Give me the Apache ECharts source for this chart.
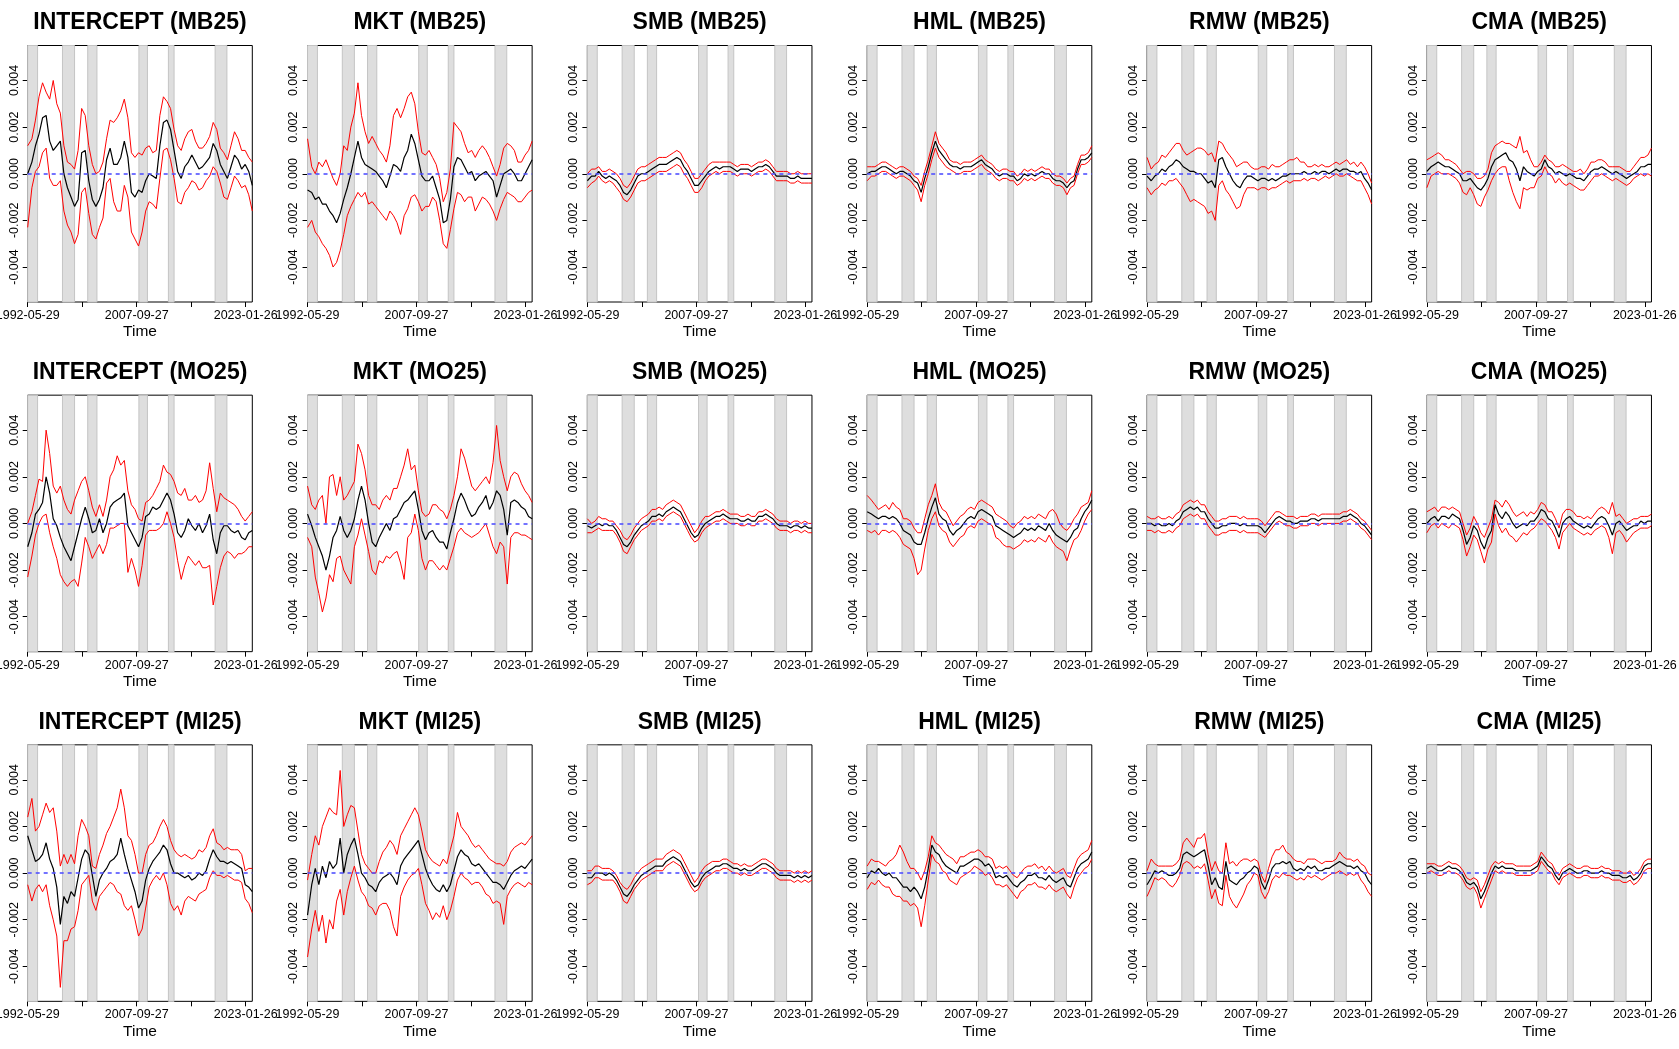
<!DOCTYPE html>
<html><head><meta charset="utf-8">
<script src="https://cdn.jsdelivr.net/npm/echarts@6/dist/echarts.min.js"></script>
<style>html,body{margin:0;padding:0;background:#fff}#c{width:1679px;height:1049px}</style>
</head><body><div id="c"></div>
<script>
// time grid (decimal years)
const T = [1992.41,1993.0,1993.5,1994.0,1994.5,1995.0,1995.5,1996.0,1996.5,1997.0,1997.5,1998.0,1998.5,1999.0,1999.5,2000.0,2000.5,2001.0,2001.5,2002.0,2002.5,2003.0,2003.5,2004.0,2004.5,2005.0,2005.5,2006.0,2006.5,2007.0,2007.5,2008.0,2008.5,2009.0,2009.5,2010.0,2010.5,2011.0,2011.5,2012.0,2012.5,2013.0,2013.5,2014.0,2014.5,2015.0,2015.5,2016.0,2016.5,2017.0,2017.5,2018.0,2018.5,2019.0,2019.5,2020.0,2020.5,2021.0,2021.5,2022.0,2022.5,2023.0,2023.5,2024.0];
const ROWS = ['MB25','MO25','MI25'];
const COLS = ['INTERCEPT','MKT','SMB','HML','RMW','CMA'];
const SHADE = [[1992.41,1993.8],[1997.3,1999.0],[2000.85,2002.15],[2008.05,2009.25],[2012.2,2013.0],[2018.77,2020.43]];
const X_TICKS = [1992.41,2000.07,2007.74,2015.41,2023.07];
const X_LABEL_POS = [1992.41,2007.74,2023.07];
const X_LABELS = ['1992-05-29','2007-09-27','2023-01-26'];
const Y_TICKS = [-0.004,-0.002,0,0.002,0.004];
const UNIT = 0.001; // all series below are written in units of 0.001

// ---------- MB25 ----------
const INT_MB25_EST = [0.0,0.5,1.2,1.7,2.4,2.5,1.4,1.0,1.2,1.4, 0.0,-0.6,-1.0,-1.4,-1.1,0.9,1.0,-0.3,-1.1,-1.4, -1.1,-0.6,0.6,1.1,0.4,0.4,0.7,1.4,0.7,-0.8, -1.0,-0.7,-0.8,-0.3,0.0,-0.1,-0.2,1.2,2.2,2.3, 1.9,1.0,0.1,-0.2,0.3,0.5,0.8,0.5,0.2,0.3, 0.5,0.7,1.3,1.0,0.4,0.1,-0.2,0.3,0.8,0.6, 0.2,0.4,0.1,-0.5];
const INT_MB25_UP = [1.2,1.5,2.3,3.3,3.9,3.5,3.2,4.0,3.0,2.6, 1.2,0.5,0.4,0.2,1.0,2.8,2.5,1.2,0.4,0.0, 0.1,0.5,1.5,2.3,2.2,2.4,2.7,3.2,2.4,0.9, 0.7,0.9,0.8,1.1,1.2,0.9,1.0,2.5,3.3,3.1, 2.8,1.9,1.2,1.0,1.5,1.8,1.9,1.4,1.1,1.1, 1.3,1.6,2.2,1.9,1.1,0.9,0.6,1.2,1.8,1.5, 1.0,1.0,0.7,0.5];
const INT_MB25_LO = [-2.3,-0.6,0.1,0.3,0.9,1.1,-0.2,-0.5,-0.5,-0.3, -1.6,-2.2,-2.5,-3.0,-2.6,-0.8,-0.6,-1.7,-2.6,-2.8, -2.3,-1.9,-0.4,-0.2,-1.2,-1.6,-1.6,-0.5,-1.0,-2.5, -2.8,-3.1,-2.5,-1.6,-1.2,-1.3,-1.5,-0.2,1.0,1.1, 0.6,-0.2,-1.2,-1.3,-0.8,-0.6,-0.3,-0.4,-0.7,-0.6, -0.3,-0.1,0.3,0.1,-0.4,-1.0,-1.1,-0.6,-0.1,-0.3, -0.6,-0.5,-0.9,-1.6];

const MKT_MB25_EST = [-0.7,-0.8,-1.1,-1.0,-1.3,-1.3,-1.6,-1.8,-2.1,-1.7, -1.1,-0.6,0.0,0.7,1.4,0.7,0.4,0.3,0.2,0.1, -0.1,-0.3,-0.6,-0.1,0.4,0.3,0.1,0.7,1.0,1.7, 1.3,0.6,-0.1,-0.3,-0.3,-0.1,-0.6,-1.1,-2.1,-2.0, -1.1,0.3,0.7,0.6,0.3,0.0,0.1,-0.3,-0.1,0.0, 0.1,-0.1,-0.3,-1.0,-0.5,0.0,0.1,0.2,0.0,-0.3, -0.3,0.0,0.3,0.6];
const MKT_MB25_UP = [1.5,0.3,0.0,0.5,0.3,0.6,0.2,-0.2,-0.5,0.0, 1.2,1.0,2.0,2.6,3.9,2.5,1.8,1.3,1.6,1.3, 1.0,0.8,0.5,1.2,2.5,2.8,2.4,2.8,3.3,3.5, 3.0,1.8,0.9,0.8,1.0,0.7,0.4,-0.2,-1.2,-0.8, 0.2,2.2,2.0,1.8,1.3,0.9,1.0,0.7,1.0,1.2, 1.0,0.7,0.3,-0.1,0.4,1.1,1.3,1.2,1.0,0.5, 0.5,0.8,1.0,1.4];
const MKT_MB25_LO = [-2.3,-2.0,-2.5,-2.7,-3.0,-3.2,-3.5,-4.0,-3.8,-3.3, -2.6,-1.8,-1.4,-1.1,-0.8,-1.0,-0.8,-1.3,-1.2,-1.4, -1.6,-1.8,-2.0,-1.6,-1.8,-2.1,-2.6,-1.8,-1.5,-1.0, -0.9,-1.2,-1.6,-1.4,-1.4,-1.0,-1.2,-2.0,-3.0,-3.2, -2.4,-1.5,-0.8,-0.9,-1.2,-1.0,-1.0,-1.6,-1.3,-1.0, -1.1,-1.3,-1.6,-2.0,-1.5,-1.1,-0.8,-0.9,-1.0,-1.2, -1.2,-1.0,-0.8,-0.7];

const SMB_MB25_EST = [-0.3,-0.1,-0.1,0.1,-0.1,-0.2,-0.1,-0.2,-0.3,-0.5, -0.8,-0.9,-0.7,-0.4,-0.1,0.0,0.0,0.1,0.2,0.3, 0.4,0.4,0.4,0.5,0.6,0.7,0.6,0.3,0.1,-0.2, -0.5,-0.5,-0.3,-0.1,0.1,0.2,0.3,0.2,0.3,0.3, 0.3,0.2,0.1,0.2,0.2,0.2,0.1,0.2,0.3,0.3, 0.4,0.3,0.1,-0.1,-0.1,-0.1,-0.1,-0.2,-0.2,-0.1, -0.2,-0.2,-0.2,-0.2];
const SMB_MB25_UP = [0.0,0.2,0.2,0.3,0.1,0.1,0.2,0.1,0.0,-0.2, -0.5,-0.6,-0.4,-0.1,0.2,0.3,0.3,0.4,0.5,0.6, 0.7,0.7,0.7,0.8,0.9,1.0,0.9,0.6,0.4,0.1, -0.2,-0.2,0.0,0.2,0.4,0.5,0.5,0.5,0.5,0.5, 0.5,0.4,0.3,0.4,0.4,0.4,0.3,0.4,0.5,0.5, 0.6,0.5,0.3,0.1,0.1,0.1,0.1,0.0,0.0,0.1, 0.0,0.0,0.0,0.0];
const SMB_MB25_LO = [-0.6,-0.4,-0.3,-0.1,-0.3,-0.4,-0.3,-0.4,-0.6,-0.8, -1.1,-1.2,-1.0,-0.7,-0.4,-0.3,-0.3,-0.2,-0.1,0.0, 0.1,0.1,0.1,0.2,0.3,0.4,0.3,0.0,-0.2,-0.5, -0.8,-0.8,-0.6,-0.3,-0.1,0.0,0.1,0.0,0.1,0.1, 0.1,0.0,-0.1,0.0,0.0,0.0,-0.1,0.0,0.1,0.1, 0.2,0.1,-0.1,-0.3,-0.3,-0.3,-0.3,-0.4,-0.4,-0.3, -0.4,-0.4,-0.4,-0.4];

const HML_MB25_EST = [0.0,0.1,0.1,0.2,0.3,0.3,0.2,0.1,0.0,0.1, 0.1,0.0,-0.1,-0.3,-0.4,-0.8,-0.2,0.3,0.9,1.4, 1.0,0.8,0.6,0.4,0.3,0.3,0.2,0.3,0.3,0.3, 0.4,0.5,0.6,0.4,0.3,0.2,0.0,-0.1,0.0,0.0, -0.1,-0.1,-0.3,-0.2,0.0,-0.1,0.0,-0.1,0.0,0.1, 0.0,0.0,-0.2,-0.3,-0.3,-0.4,-0.6,-0.4,-0.3,0.2, 0.6,0.6,0.7,0.9];
const HML_MB25_UP = [0.3,0.3,0.3,0.4,0.5,0.5,0.4,0.3,0.2,0.3, 0.3,0.2,0.1,-0.1,-0.2,-0.5,0.1,0.6,1.2,1.8, 1.3,1.1,0.9,0.6,0.5,0.5,0.4,0.5,0.5,0.5, 0.6,0.7,0.8,0.6,0.5,0.4,0.2,0.1,0.2,0.2, 0.1,0.1,-0.1,0.0,0.2,0.1,0.2,0.1,0.2,0.3, 0.2,0.2,0.0,-0.1,-0.1,-0.2,-0.4,-0.2,-0.1,0.4, 0.8,0.8,0.9,1.2];
const HML_MB25_LO = [-0.3,-0.1,-0.1,0.0,0.1,0.1,0.0,-0.1,-0.2,-0.1, -0.1,-0.2,-0.3,-0.5,-0.7,-1.2,-0.5,0.0,0.6,1.1, 0.7,0.5,0.3,0.2,0.1,0.0,0.0,0.1,0.1,0.1, 0.2,0.3,0.4,0.2,0.1,0.0,-0.2,-0.3,-0.2,-0.2, -0.3,-0.3,-0.5,-0.4,-0.2,-0.3,-0.2,-0.3,-0.2,-0.1, -0.2,-0.2,-0.4,-0.5,-0.5,-0.6,-0.9,-0.6,-0.5,0.0, 0.4,0.4,0.5,0.7];

const RMW_MB25_EST = [-0.1,-0.3,-0.1,0.0,0.2,0.1,0.3,0.4,0.6,0.5, 0.3,0.2,0.1,0.1,0.0,0.0,-0.2,-0.4,-0.3,-0.6, 0.6,0.7,0.3,0.0,-0.3,-0.5,-0.6,-0.3,-0.1,-0.1, -0.2,-0.3,-0.2,-0.2,-0.3,-0.2,-0.3,-0.2,-0.1,-0.1, 0.0,0.0,0.0,0.0,0.1,0.0,0.0,0.1,0.0,0.1, 0.1,0.0,0.1,0.2,0.1,0.2,0.2,0.1,0.1,0.0, 0.1,-0.2,-0.4,-0.7];
const RMW_MB25_UP = [0.7,0.2,0.4,0.5,0.8,0.7,0.9,1.1,1.3,1.3, 1.0,0.8,0.9,1.0,1.1,1.1,1.0,0.8,0.9,0.5, 1.4,1.3,1.0,0.8,0.6,0.3,0.4,0.5,0.5,0.3, 0.2,0.2,0.3,0.3,0.2,0.4,0.3,0.3,0.4,0.5, 0.6,0.6,0.7,0.5,0.5,0.3,0.3,0.4,0.3,0.4, 0.3,0.3,0.4,0.5,0.4,0.5,0.6,0.4,0.5,0.3, 0.5,0.3,0.0,-0.4];
const RMW_MB25_LO = [-0.6,-0.9,-0.7,-0.6,-0.4,-0.5,-0.3,-0.3,-0.2,-0.4, -0.6,-0.9,-1.2,-1.1,-1.2,-1.3,-1.4,-1.7,-1.6,-2.0, -0.5,-0.3,-0.7,-0.9,-1.2,-1.5,-1.4,-0.9,-0.6,-0.6, -0.6,-0.7,-0.6,-0.6,-0.7,-0.6,-0.6,-0.5,-0.4,-0.3, -0.4,-0.3,-0.3,-0.3,-0.2,-0.3,-0.2,-0.2,-0.3,-0.2, -0.1,-0.2,-0.1,0.0,-0.1,-0.1,0.0,-0.1,-0.2,-0.3, -0.3,-0.6,-0.9,-1.3];

const CMA_MB25_EST = [0.1,0.3,0.4,0.5,0.4,0.3,0.3,0.2,0.1,0.0, -0.3,-0.3,-0.2,-0.4,-0.6,-0.7,-0.5,-0.2,0.3,0.6, 0.7,0.8,0.9,0.6,0.5,0.2,-0.3,0.3,0.1,0.0, -0.1,0.1,0.2,0.6,0.3,0.2,0.0,0.1,0.0,-0.1, 0.0,-0.1,-0.2,-0.2,-0.3,-0.1,0.1,0.2,0.2,0.3, 0.2,0.1,0.0,0.1,0.0,-0.1,-0.2,-0.1,0.0,0.1, 0.3,0.3,0.4,0.4];
const CMA_MB25_UP = [0.6,0.7,0.8,0.9,0.8,0.6,0.6,0.5,0.4,0.2, 0.0,0.1,0.1,0.0,-0.2,-0.2,-0.1,0.2,0.9,1.2, 1.3,1.4,1.3,1.3,1.2,1.1,1.6,0.9,1.0,0.6, 0.3,0.3,0.5,0.8,0.6,0.5,0.3,0.3,0.4,0.3, 0.2,0.1,0.1,0.2,0.0,0.2,0.5,0.5,0.6,0.6, 0.5,0.3,0.3,0.3,0.3,0.2,0.1,0.1,0.3,0.5, 0.7,0.7,0.8,1.1];
const CMA_MB25_LO = [-0.6,-0.1,0.0,0.1,0.0,0.0,0.0,-0.1,-0.2,-0.4, -0.8,-0.9,-0.6,-0.9,-1.3,-1.4,-1.0,-0.7,-0.3,0.0, 0.2,0.3,0.3,-0.3,-0.8,-1.2,-1.5,-0.6,-0.7,-0.6, -0.6,-0.2,-0.1,0.3,0.0,-0.1,-0.4,-0.2,-0.4,-0.5, -0.4,-0.5,-0.6,-0.7,-0.7,-0.5,-0.3,-0.1,-0.1,0.0, -0.1,-0.2,-0.3,-0.2,-0.3,-0.4,-0.5,-0.4,-0.2,-0.1, 0.0,-0.1,0.0,-0.1];

// ---------- MO25 ----------
const INT_MO25_EST = [-1.0,-0.4,0.4,0.6,0.9,2.0,1.3,0.2,-0.1,-0.6, -1.0,-1.3,-1.6,-1.0,-0.4,0.2,0.7,0.2,-0.4,-0.3, 0.2,-0.4,0.0,0.7,0.9,1.0,1.1,1.3,-0.1,-0.4, -0.7,-1.0,-0.6,0.3,0.4,0.7,0.6,0.7,1.0,1.3, 1.0,0.4,-0.4,-0.6,-0.3,0.2,-0.1,-0.3,0.0,-0.4, -0.1,0.4,-0.7,-1.3,-0.4,-0.1,-0.1,-0.3,-0.4,-0.3, -0.6,-0.7,-0.4,-0.3];
const INT_MO25_UP = [0.0,0.5,1.2,1.9,1.8,4.0,3.0,1.6,1.3,1.6, 1.0,0.6,0.4,1.0,1.4,1.8,2.0,1.4,0.7,0.3, 0.8,0.3,1.0,2.0,2.3,2.9,2.5,2.7,1.4,0.8, 0.6,0.2,0.1,0.9,1.0,1.2,1.5,1.8,2.5,2.2, 2.1,1.8,1.3,1.2,1.5,1.0,1.0,1.2,0.9,1.0, 1.4,2.6,1.5,0.5,1.3,1.1,1.0,0.9,0.8,0.6, 0.3,0.1,0.3,0.5];
const INT_MO25_LO = [-2.3,-1.4,-0.5,0.0,0.3,0.4,-0.4,-1.0,-1.5,-2.2, -2.5,-2.7,-2.5,-2.4,-2.7,-1.7,-0.6,-1.0,-1.5,-1.2, -0.9,-1.3,-0.9,-0.2,-0.2,-0.1,0.0,0.0,-2.1,-1.5, -2.0,-2.7,-1.8,-0.5,-0.3,-0.3,-0.3,-0.2,0.0,0.5, 0.0,-0.6,-1.6,-2.4,-1.8,-1.4,-1.6,-1.8,-1.6,-1.9, -1.9,-1.8,-3.5,-2.7,-1.9,-1.4,-1.2,-1.3,-1.5,-1.3, -1.3,-1.2,-1.0,-1.0];

const MKT_MO25_EST = [0.4,-0.1,-0.6,-1.0,-1.4,-2.0,-1.4,-0.6,-0.3,0.3, -0.3,-0.6,-0.3,0.2,1.0,1.6,1.0,0.0,-0.8,-1.0, -0.6,-0.3,0.0,-0.3,0.2,0.3,0.6,0.9,1.0,1.2, 1.4,0.6,-0.3,-0.7,-0.4,-0.3,-0.6,-0.8,-0.8,-1.1, -0.4,0.2,0.9,1.3,1.0,0.6,0.3,0.4,0.7,0.9, 1.2,0.6,0.9,1.4,1.2,0.6,-0.5,0.9,1.0,0.9, 0.7,0.6,0.3,0.2];
const MKT_MO25_UP = [1.6,0.8,0.6,1.0,1.2,0.0,2.0,2.1,1.2,2.0, 1.0,1.2,1.5,1.8,3.4,3.0,2.3,1.2,0.8,0.8, 0.6,1.0,1.2,1.0,1.5,1.5,2.0,2.5,3.2,2.3, 2.5,1.4,0.5,0.3,0.4,0.8,0.8,0.6,0.5,0.2, 0.6,1.2,2.0,3.2,2.8,2.2,1.6,1.4,1.6,1.8, 2.0,1.7,2.6,4.2,2.7,2.0,1.4,2.0,2.2,2.1, 1.7,1.4,1.2,0.9];
const MKT_MO25_LO = [-0.6,-1.0,-2.3,-3.0,-3.8,-3.2,-2.2,-2.5,-1.5,-1.4, -2.0,-2.3,-2.6,-1.0,-0.5,0.2,-0.5,-1.2,-2.0,-2.2, -1.6,-1.7,-1.4,-1.5,-1.3,-1.2,-1.7,-2.4,-0.6,-0.4, 0.4,-0.3,-1.5,-2.0,-1.6,-1.6,-1.8,-2.0,-1.8,-2.0, -1.5,-1.0,-0.4,-0.2,-0.4,-0.5,-0.6,-0.5,-0.4,-0.2, 0.0,-0.5,-1.0,-1.3,-0.8,-1.0,-2.6,-0.6,-0.4,-0.4, -0.5,-0.5,-0.6,-0.7];

const SMB_MO25_EST = [-0.1,-0.2,-0.1,0.0,-0.1,0.0,-0.1,-0.1,-0.3,-0.6, -0.9,-1.0,-0.8,-0.5,-0.3,-0.1,0.0,0.1,0.3,0.3, 0.4,0.3,0.5,0.6,0.7,0.6,0.5,0.2,-0.1,-0.4, -0.6,-0.5,-0.2,0.0,0.1,0.2,0.3,0.3,0.4,0.3, 0.2,0.2,0.2,0.1,0.1,0.2,0.1,0.1,0.3,0.3, 0.4,0.3,0.2,0.0,-0.1,-0.1,-0.1,-0.2,-0.1,-0.1, -0.2,-0.1,-0.2,-0.2];
const SMB_MO25_UP = [0.2,0.0,0.1,0.3,0.2,0.2,0.1,0.1,-0.1,-0.3, -0.6,-0.7,-0.5,-0.2,0.0,0.2,0.3,0.4,0.6,0.6, 0.7,0.6,0.8,0.9,1.0,0.9,0.8,0.5,0.2,-0.1, -0.4,-0.2,0.1,0.3,0.3,0.4,0.5,0.5,0.6,0.5, 0.4,0.4,0.4,0.3,0.3,0.4,0.3,0.3,0.5,0.5, 0.6,0.5,0.4,0.2,0.1,0.1,0.1,0.0,0.1,0.1, 0.0,0.1,0.0,0.0];
const SMB_MO25_LO = [-0.4,-0.4,-0.3,-0.2,-0.3,-0.3,-0.3,-0.3,-0.5,-0.8, -1.2,-1.3,-1.0,-0.7,-0.5,-0.3,-0.2,-0.1,0.1,0.1, 0.2,0.1,0.3,0.4,0.5,0.4,0.3,0.0,-0.3,-0.6, -0.8,-0.7,-0.4,-0.2,-0.1,0.0,0.1,0.1,0.2,0.1, 0.0,0.0,0.0,-0.1,-0.1,0.0,-0.1,-0.1,0.1,0.1, 0.2,0.1,0.0,-0.2,-0.3,-0.3,-0.3,-0.4,-0.3,-0.3, -0.4,-0.3,-0.4,-0.4];

const HML_MO25_EST = [0.5,0.4,0.3,0.2,0.3,0.3,0.2,0.3,0.2,0.0, -0.3,-0.4,-0.5,-0.8,-0.9,-0.9,-0.4,0.2,0.7,1.1, 0.4,0.2,0.1,-0.3,-0.5,-0.3,-0.2,0.0,0.2,0.3, 0.2,0.5,0.6,0.5,0.4,0.3,-0.1,-0.2,-0.3,-0.4, -0.5,-0.6,-0.5,-0.4,-0.2,-0.3,-0.2,-0.3,-0.1,-0.2, -0.3,0.0,-0.3,-0.5,-0.6,-0.7,-0.8,-0.6,-0.3,-0.2, 0.2,0.5,0.7,1.0];
const HML_MO25_UP = [1.2,1.0,0.8,0.6,0.7,0.8,0.6,0.9,0.7,0.6, 0.2,0.2,0.1,-0.2,-0.4,-0.4,0.2,0.8,1.2,1.7, 0.9,0.6,0.5,0.2,-0.1,0.1,0.3,0.4,0.6,0.7, 0.6,0.9,1.0,0.9,0.8,0.7,0.4,0.3,0.2,0.1, -0.1,-0.2,0.0,0.1,0.3,0.2,0.3,0.2,0.4,0.3, 0.2,0.5,0.6,0.4,0.0,-0.2,-0.3,-0.1,0.2,0.4, 0.7,0.8,0.9,1.4];
const HML_MO25_LO = [-0.3,-0.4,-0.3,-0.5,-0.3,-0.3,-0.4,-0.3,-0.4,-0.6, -0.9,-1.0,-1.1,-1.5,-2.2,-2.0,-1.1,-0.3,0.2,0.5, -0.1,-0.3,-0.4,-0.8,-1.0,-0.8,-0.6,-0.5,-0.2,-0.1, -0.2,0.1,0.2,0.1,0.0,-0.1,-0.6,-0.7,-0.9,-1.0, -1.0,-1.1,-1.0,-0.9,-0.7,-0.8,-0.7,-0.8,-0.6,-0.7, -0.8,-0.5,-0.8,-1.0,-1.1,-1.2,-1.6,-1.1,-0.7,-0.6, -0.3,0.1,0.4,0.6];

const RMW_MO25_EST = [0.0,0.0,-0.1,0.0,-0.1,-0.1,0.0,-0.1,0.1,0.2, 0.5,0.6,0.7,0.6,0.7,0.5,0.5,0.2,0.0,-0.2, -0.2,-0.1,-0.1,0.0,0.0,0.0,-0.1,0.0,-0.1,-0.1, -0.1,-0.1,-0.2,-0.4,-0.2,0.0,0.2,0.3,0.2,0.1, 0.1,0.0,0.0,0.1,0.1,0.1,0.2,0.2,0.1,0.2, 0.2,0.2,0.2,0.2,0.2,0.3,0.3,0.4,0.3,0.2, 0.0,-0.1,-0.3,-0.5];
const RMW_MO25_UP = [0.3,0.2,0.2,0.3,0.2,0.2,0.3,0.2,0.4,0.5, 0.8,0.9,1.0,0.9,1.0,0.8,0.8,0.5,0.3,0.1, 0.1,0.2,0.2,0.3,0.3,0.3,0.2,0.3,0.2,0.2, 0.2,0.2,0.1,-0.1,0.1,0.3,0.5,0.5,0.4,0.3, 0.3,0.3,0.2,0.3,0.3,0.3,0.4,0.4,0.3,0.4, 0.4,0.4,0.4,0.4,0.4,0.5,0.5,0.6,0.5,0.4, 0.2,0.1,-0.1,-0.3];
const RMW_MO25_LO = [-0.3,-0.3,-0.4,-0.3,-0.4,-0.4,-0.3,-0.4,-0.2,-0.1, 0.2,0.3,0.4,0.3,0.4,0.2,0.2,-0.1,-0.3,-0.5, -0.5,-0.4,-0.4,-0.3,-0.3,-0.3,-0.4,-0.3,-0.4,-0.4, -0.4,-0.4,-0.5,-0.6,-0.4,-0.2,0.0,0.1,0.0,-0.1, -0.1,-0.2,-0.2,-0.1,-0.1,-0.1,0.0,0.0,-0.1,0.0, 0.0,0.0,0.0,0.0,0.0,0.1,0.1,0.2,0.1,0.0, -0.2,-0.3,-0.5,-0.7];

const CMA_MO25_EST = [0.0,0.2,0.3,0.1,0.3,0.3,0.2,0.4,0.3,0.2, -0.3,-0.9,-0.6,-0.1,-0.3,-0.8,-1.1,-0.6,-0.3,0.8, 0.4,0.2,0.5,0.3,0.0,-0.2,-0.1,0.0,-0.1,0.1, 0.1,0.3,0.6,0.5,0.2,0.1,-0.2,-0.6,0.0,0.2, 0.3,0.1,0.0,-0.1,-0.2,-0.1,-0.2,0.0,0.2,0.3, 0.2,-0.1,-0.5,0.0,0.1,-0.1,-0.3,-0.2,-0.1,-0.1, 0.1,0.0,0.1,0.1];
const CMA_MO25_UP = [0.5,0.6,0.7,0.5,0.7,0.7,0.6,0.7,0.6,0.5, 0.0,-0.5,-0.2,0.3,0.0,-0.4,-0.6,-0.2,0.2,1.0, 0.9,0.7,1.0,0.8,0.5,0.3,0.4,0.5,0.3,0.5, 0.4,0.6,0.9,0.8,0.5,0.5,0.2,-0.2,0.4,0.6, 0.6,0.5,0.3,0.3,0.2,0.3,0.2,0.4,0.6,0.7, 0.6,0.4,0.9,0.3,0.4,0.2,0.0,0.1,0.2,0.2, 0.3,0.3,0.3,0.4];
const CMA_MO25_LO = [-0.4,-0.1,0.0,-0.2,0.0,-0.1,-0.2,0.0,-0.1,-0.2, -0.7,-1.4,-1.0,-0.5,-0.7,-1.2,-1.7,-1.1,-0.8,0.4, -0.1,-0.4,-0.2,-0.5,-0.6,-0.8,-0.6,-0.4,-0.5,-0.3, -0.2,0.0,0.2,0.1,-0.1,-0.3,-0.6,-1.1,-0.4,-0.2, 0.0,-0.2,-0.3,-0.4,-0.5,-0.4,-0.5,-0.3,-0.2,-0.1, -0.2,-0.6,-1.3,-0.4,-0.3,-0.5,-0.8,-0.6,-0.4,-0.3, -0.2,-0.2,-0.2,-0.1];

// ---------- MI25 ----------
const INT_MI25_EST = [1.6,1.0,0.5,0.6,0.8,1.3,0.6,0.2,-0.6,-2.2, -1.0,-1.3,-0.8,-1.0,-0.2,0.6,1.0,0.8,-0.1,-1.0, -0.3,0.0,0.2,0.5,0.6,0.8,1.5,0.8,0.2,-0.3, -0.8,-1.5,-1.2,-0.3,0.2,0.5,0.7,0.9,1.2,1.0, 0.4,0.0,0.0,-0.1,-0.2,-0.1,-0.3,-0.2,0.0,-0.1, 0.1,0.6,1.0,0.7,0.5,0.5,0.4,0.5,0.4,0.3, 0.2,-0.5,-0.6,-0.8];
const INT_MI25_UP = [2.4,3.2,1.8,2.0,2.5,3.0,2.6,2.8,1.8,0.3, 0.8,0.4,0.8,0.4,1.6,2.3,2.0,1.6,0.3,0.2, 0.8,1.2,1.7,2.0,2.4,2.8,3.6,2.8,1.6,1.4, 0.8,0.0,0.0,0.8,1.2,1.3,1.6,2.0,2.3,2.0, 1.4,1.0,0.8,0.7,0.8,0.7,0.6,0.7,1.0,0.9, 1.1,1.6,1.9,1.3,1.2,1.0,1.1,1.0,1.0,1.0, 0.8,0.1,0.2,0.2];
const INT_MI25_LO = [-0.5,-1.2,-0.7,-0.5,-0.8,-0.5,-1.4,-2.0,-2.7,-4.9, -2.9,-2.9,-2.4,-2.3,-1.6,-0.5,-0.3,-0.1,-1.2,-1.6, -1.0,-0.8,-0.6,-0.4,-0.5,-0.8,-0.9,-1.4,-1.6,-1.4, -2.0,-2.7,-2.4,-1.5,-0.6,-0.3,-0.1,-0.3,0.0,-0.5, -1.3,-1.6,-1.4,-1.8,-1.2,-1.0,-1.1,-1.2,-0.9,-0.8, -0.7,-0.2,0.1,-0.1,-0.1,-0.2,-0.1,-0.2,-0.3,-0.3, -0.4,-1.1,-1.3,-1.7];

const MKT_MI25_EST = [-1.8,-0.5,0.2,-0.5,0.3,-0.2,0.5,0.2,0.4,1.5, 0.0,0.8,1.2,1.5,0.8,0.0,-0.2,-0.5,-0.6,-0.8, -0.4,-0.2,-0.1,0.0,-0.2,-0.5,0.3,0.6,0.8,1.0, 1.2,1.4,0.8,0.2,-0.2,-0.5,-0.7,-0.8,-0.5,-0.8, -0.5,0.1,0.7,1.0,0.8,0.7,0.4,0.3,0.4,0.2, 0.0,-0.2,-0.4,-0.4,-0.5,-0.7,-0.4,-0.1,0.1,0.2, 0.3,0.2,0.4,0.6];
const MKT_MI25_UP = [-0.3,0.8,1.6,1.2,2.0,2.4,2.8,2.6,2.5,4.4, 2.0,2.5,2.9,2.8,1.8,0.8,0.4,0.2,0.0,0.0, 0.5,0.9,1.1,1.4,1.2,0.8,1.6,1.9,2.2,2.5, 2.8,2.5,1.8,1.0,0.7,0.5,0.4,0.3,0.6,0.4, 1.0,1.6,2.6,2.0,1.8,1.6,1.3,1.1,1.2,1.0, 0.8,0.6,0.5,0.4,0.4,0.3,0.5,0.9,1.1,1.2, 1.3,1.2,1.4,1.6];
const MKT_MI25_LO = [-3.6,-2.4,-1.6,-2.5,-1.8,-3.0,-2.0,-2.4,-1.2,-0.7, -1.8,-0.8,-0.2,0.3,-0.3,-0.8,-1.0,-1.4,-1.5,-1.8, -1.4,-1.3,-1.3,-1.6,-2.3,-2.7,-1.0,-0.6,-0.3,-0.1, 0.0,0.2,-0.5,-1.3,-1.6,-2.0,-1.7,-1.9,-1.4,-2.0, -1.6,-1.0,-0.3,0.0,-0.2,-0.3,-0.5,-0.4,-0.4,-0.6, -0.9,-1.0,-1.3,-1.2,-1.3,-2.2,-1.0,-0.7,-0.5,-0.4, -0.5,-0.6,-0.4,-0.5];

const SMB_MI25_EST = [-0.2,-0.2,0.0,0.0,0.0,-0.1,0.0,-0.1,-0.3,-0.6, -0.9,-1.0,-0.8,-0.5,-0.3,-0.1,0.0,0.1,0.2,0.3, 0.3,0.3,0.5,0.6,0.7,0.6,0.5,0.2,-0.1,-0.4, -0.6,-0.5,-0.2,0.0,0.1,0.2,0.3,0.3,0.4,0.4, 0.3,0.2,0.2,0.1,0.2,0.1,0.1,0.2,0.3,0.4, 0.4,0.3,0.2,0.0,-0.1,-0.1,-0.1,-0.1,-0.2,-0.1, -0.2,-0.1,-0.2,-0.1];
const SMB_MI25_UP = [0.1,0.1,0.3,0.3,0.2,0.2,0.2,0.1,-0.1,-0.4, -0.6,-0.7,-0.5,-0.2,0.0,0.2,0.3,0.4,0.5,0.6, 0.6,0.6,0.8,0.9,1.0,0.9,0.8,0.5,0.2,-0.1, -0.4,-0.2,0.1,0.3,0.4,0.5,0.5,0.5,0.6,0.6, 0.5,0.4,0.4,0.3,0.4,0.3,0.3,0.4,0.5,0.6, 0.6,0.5,0.4,0.2,0.1,0.1,0.1,0.1,0.0,0.1, 0.0,0.1,0.0,0.1];
const SMB_MI25_LO = [-0.5,-0.4,-0.2,-0.2,-0.3,-0.3,-0.3,-0.3,-0.5,-0.8, -1.2,-1.3,-1.0,-0.7,-0.5,-0.3,-0.2,-0.1,0.0,0.1, 0.1,0.1,0.3,0.4,0.5,0.4,0.3,0.0,-0.3,-0.6, -0.8,-0.7,-0.4,-0.2,-0.1,0.0,0.1,0.1,0.2,0.2, 0.1,0.0,0.0,-0.1,0.0,-0.1,-0.1,0.0,0.1,0.2, 0.2,0.1,0.0,-0.2,-0.3,-0.3,-0.3,-0.3,-0.4,-0.3, -0.4,-0.3,-0.4,-0.3];

const HML_MI25_EST = [-0.2,0.1,0.0,0.2,0.0,-0.1,0.0,-0.2,-0.2,-0.4, -0.6,-0.6,-0.8,-0.6,-0.8,-1.1,-0.6,0.2,1.2,0.9, 0.8,0.5,0.3,0.2,0.1,0.0,0.3,0.3,0.4,0.5, 0.6,0.6,0.5,0.3,0.4,0.2,-0.2,-0.1,-0.2,-0.1, -0.3,-0.5,-0.6,-0.4,-0.3,-0.1,-0.1,0.0,-0.2,-0.2, -0.3,-0.1,-0.3,-0.4,-0.3,-0.2,-0.5,-0.6,-0.2,0.2, 0.4,0.5,0.6,0.9];
const HML_MI25_UP = [0.3,0.6,0.5,0.5,0.4,0.3,0.5,0.6,0.8,1.2, 0.9,0.5,0.2,0.2,0.0,-0.3,0.1,0.7,1.6,1.3, 1.2,1.0,0.8,0.7,0.6,0.4,0.7,0.7,0.8,0.9, 0.9,1.0,0.9,0.7,0.7,0.6,0.2,0.3,0.2,0.3, 0.1,-0.1,-0.2,0.0,0.2,0.3,0.3,0.4,0.2,0.3, 0.1,0.3,0.1,0.0,0.1,0.2,-0.1,-0.2,0.2,0.6, 0.8,0.9,1.0,1.4];
const HML_MI25_LO = [-0.7,-0.4,-0.5,-0.3,-0.5,-0.6,-0.6,-0.9,-1.0,-1.0, -1.2,-1.2,-1.4,-1.3,-1.5,-2.3,-1.4,-0.3,0.8,0.5, 0.4,0.1,0.0,-0.3,-0.4,-0.5,-0.2,-0.1,0.0,0.1, 0.3,0.2,0.1,-0.1,0.0,-0.2,-0.5,-0.5,-0.6,-0.5, -0.7,-0.9,-1.1,-0.8,-0.7,-0.5,-0.5,-0.4,-0.6,-0.6, -0.7,-0.5,-0.7,-0.8,-0.7,-0.6,-0.9,-1.1,-0.6,-0.2, 0.0,0.2,0.3,0.6];

const RMW_MI25_EST = [-0.5,-0.2,0.1,0.0,0.1,0.0,-0.1,-0.1,0.0,0.2, 0.8,0.9,0.8,0.7,0.8,0.9,1.0,0.3,-0.5,-0.2, -0.6,-0.7,0.5,-0.3,-0.4,-0.5,-0.3,-0.2,0.0,0.1, 0.3,0.2,-0.4,-0.7,-0.3,0.2,0.4,0.4,0.5,0.4, 0.5,0.2,0.1,0.2,0.1,0.3,0.2,0.3,0.1,0.1, 0.2,0.2,0.3,0.4,0.5,0.4,0.3,0.3,0.2,0.3, 0.1,0.0,-0.3,-0.5];
const RMW_MI25_UP = [0.1,0.6,0.4,0.3,0.3,0.3,0.3,0.3,0.4,0.6, 1.3,1.5,1.3,1.1,1.5,1.5,1.7,0.8,0.1,0.5, 0.1,0.0,1.3,0.4,0.5,0.3,0.5,0.6,0.6,0.5, 0.6,0.5,-0.1,-0.4,0.2,0.7,1.0,1.0,1.2,0.9, 0.8,0.6,0.5,0.5,0.4,0.6,0.6,0.6,0.5,0.4, 0.5,0.5,0.5,0.6,0.9,0.7,0.6,0.6,0.5,0.6, 0.4,0.3,0.0,-0.1];
const RMW_MI25_LO = [-1.0,-0.6,-0.2,-0.3,-0.2,-0.3,-0.5,-0.6,-0.4,-0.1, 0.4,0.5,0.4,0.2,0.3,0.2,0.4,-0.3,-1.1,-0.7, -1.3,-1.4,-0.1,-1.0,-1.3,-1.5,-1.2,-0.9,-0.5,-0.3, 0.0,-0.1,-0.8,-1.1,-0.8,-0.3,-0.1,-0.2,0.0,-0.1, -0.1,-0.2,-0.3,-0.2,-0.3,-0.1,-0.2,-0.1,-0.2,-0.3, -0.2,-0.1,0.0,0.0,0.1,0.0,-0.1,0.0,-0.1,0.0, -0.3,-0.5,-0.8,-1.0];

const CMA_MI25_EST = [0.2,0.3,0.2,0.1,0.1,0.2,0.3,0.2,0.2,0.1, -0.1,-0.4,-0.5,-0.4,-0.6,-1.1,-0.8,-0.4,0.0,0.3, 0.2,0.3,0.2,0.2,0.2,0.1,0.1,0.1,0.1,0.1, 0.2,0.3,0.7,0.5,0.3,0.2,-0.1,-0.3,0.0,0.1, 0.2,0.1,0.0,0.0,0.1,0.1,0.0,0.0,0.0,0.1, 0.0,0.0,-0.1,-0.1,-0.1,-0.2,-0.2,-0.1,-0.3,-0.2, 0.0,0.3,0.4,0.4];
const CMA_MI25_UP = [0.4,0.4,0.4,0.3,0.3,0.4,0.5,0.4,0.4,0.3, 0.1,-0.2,-0.3,-0.2,-0.3,-0.8,-0.5,-0.1,0.3,0.5, 0.4,0.5,0.4,0.4,0.4,0.3,0.3,0.3,0.3,0.3, 0.4,0.5,0.9,0.7,0.5,0.4,0.1,-0.1,0.2,0.3, 0.4,0.3,0.2,0.2,0.3,0.3,0.2,0.2,0.2,0.3, 0.2,0.2,0.1,0.1,0.1,0.0,0.0,0.1,-0.1,0.0, 0.2,0.5,0.6,0.6];
const CMA_MI25_LO = [0.0,0.1,0.0,-0.1,-0.1,0.0,0.1,0.0,0.0,-0.1, -0.3,-0.6,-0.7,-0.6,-0.9,-1.5,-1.1,-0.7,-0.3,0.1, 0.0,0.1,0.0,0.0,0.0,-0.1,-0.1,-0.1,-0.1,-0.1, 0.0,0.1,0.5,0.3,0.1,0.0,-0.3,-0.5,-0.2,-0.1, 0.0,-0.1,-0.2,-0.2,-0.1,-0.1,-0.2,-0.2,-0.2,-0.1, -0.2,-0.2,-0.3,-0.3,-0.3,-0.4,-0.4,-0.3,-0.5,-0.4, -0.2,0.1,0.2,0.2];

const PANELS = [
  [[INT_MB25_EST,INT_MB25_UP,INT_MB25_LO],[MKT_MB25_EST,MKT_MB25_UP,MKT_MB25_LO],[SMB_MB25_EST,SMB_MB25_UP,SMB_MB25_LO],[HML_MB25_EST,HML_MB25_UP,HML_MB25_LO],[RMW_MB25_EST,RMW_MB25_UP,RMW_MB25_LO],[CMA_MB25_EST,CMA_MB25_UP,CMA_MB25_LO]],
  [[INT_MO25_EST,INT_MO25_UP,INT_MO25_LO],[MKT_MO25_EST,MKT_MO25_UP,MKT_MO25_LO],[SMB_MO25_EST,SMB_MO25_UP,SMB_MO25_LO],[HML_MO25_EST,HML_MO25_UP,HML_MO25_LO],[RMW_MO25_EST,RMW_MO25_UP,RMW_MO25_LO],[CMA_MO25_EST,CMA_MO25_UP,CMA_MO25_LO]],
  [[INT_MI25_EST,INT_MI25_UP,INT_MI25_LO],[MKT_MI25_EST,MKT_MI25_UP,MKT_MI25_LO],[SMB_MI25_EST,SMB_MI25_UP,SMB_MI25_LO],[HML_MI25_EST,HML_MI25_UP,HML_MI25_LO],[RMW_MI25_EST,RMW_MI25_UP,RMW_MI25_LO],[CMA_MI25_EST,CMA_MI25_UP,CMA_MI25_LO]]
];

// ---------- layout / chart ----------
const CW = 1679 / 6, CH = 1049 / 3;
const BOX_L = 27.7, BOX_T = 45.5, BOX_W = 224.6, BOX_H = 256.5;
const FONT = "'Liberation Sans', Arial, Helvetica, sans-serif";
const toPts = arr => T.map((t, i) => [t, arr[i] * UNIT]);
const xLabel = v => { const i = X_LABEL_POS.findIndex(p => Math.abs(p - v) < 0.01); return i >= 0 ? X_LABELS[i] : ''; };

const grid = [], xAxis = [], yAxis = [], series = [], graphic = [];
ROWS.forEach((rn, r) => {
  COLS.forEach((cn, c) => {
    const k = r * 6 + c;
    const [est, up, lo] = PANELS[r][c];
    grid.push({ left: c * CW + BOX_L, top: r * CH + BOX_T, width: BOX_W, height: BOX_H,
      show: true, borderColor: '#000', borderWidth: 1, backgroundColor: 'rgba(0,0,0,0)',
      containLabel: false, outerBoundsMode: 'none' });
    xAxis.push({ type: 'value', gridIndex: k, min: 1992.41, max: 2024.0, position: 'bottom',
      axisLine: { show: false, onZero: false }, splitLine: { show: false },
      axisTick: { show: true, customValues: X_TICKS, length: 5, lineStyle: { color: '#000', width: 1 } },
      axisLabel: { show: true, customValues: X_LABEL_POS, formatter: xLabel, margin: 7,
        fontSize: 12.5, color: '#000', fontFamily: FONT, hideOverlap: false },
      name: 'Time', nameLocation: 'middle', nameGap: 22,
      nameTextStyle: { fontSize: 15.5, color: '#000', fontFamily: FONT } });
    yAxis.push({ type: 'value', gridIndex: k, min: -0.0055, max: 0.0055, position: 'left',
      axisLine: { show: false, onZero: false }, splitLine: { show: false },
      axisTick: { show: true, customValues: Y_TICKS, length: 5, lineStyle: { color: '#000', width: 1 } },
      axisLabel: { show: true, customValues: Y_TICKS, rotate: 90, margin: 7,
        formatter: v => v.toFixed(3), fontSize: 12.5, color: '#000', fontFamily: FONT } });
    // shaded periods
    series.push({ type: 'line', xAxisIndex: k, yAxisIndex: k, data: [], z: 1, silent: true,
      markArea: { silent: true, animation: false,
        itemStyle: { color: '#dedede', borderColor: '#c4c4c4', borderWidth: 1 },
        data: SHADE.map(s => [{ xAxis: s[0] }, { xAxis: s[1] }]) } });
    series.push({ type: 'line', xAxisIndex: k, yAxisIndex: k, data: toPts(lo), z: 2, silent: true,
      showSymbol: false, symbol: 'none', lineStyle: { color: '#ff0000', width: 1 } });
    series.push({ type: 'line', xAxisIndex: k, yAxisIndex: k, data: toPts(up), z: 2, silent: true,
      showSymbol: false, symbol: 'none', lineStyle: { color: '#ff0000', width: 1 } });
    series.push({ type: 'line', xAxisIndex: k, yAxisIndex: k, data: toPts(est), z: 3, silent: true,
      showSymbol: false, symbol: 'none', lineStyle: { color: '#000000', width: 1.2 } });
    // zero reference line
    series.push({ type: 'line', xAxisIndex: k, yAxisIndex: k, data: [], z: 4, silent: true,
      markLine: { silent: true, animation: false, symbol: ['none', 'none'], label: { show: false },
        lineStyle: { color: 'rgba(80,80,255,0.8)', type: [4, 4], width: 2 },
        data: [{ yAxis: 0 }] } });
    graphic.push({ type: 'text', x: c * CW + BOX_L + BOX_W / 2, y: r * CH + 23, silent: true,
      style: { text: cn + ' (' + rn + ')', font: 'bold 23px ' + FONT, fill: '#000',
        align: 'center', verticalAlign: 'middle', textAlign: 'center', textVerticalAlign: 'middle' } });
  });
});

const chart = echarts.init(document.getElementById('c'), null, { renderer: 'canvas' });
chart.setOption({ animation: false, backgroundColor: '#fff', grid, xAxis, yAxis, series, graphic });
</script>
</body></html>
